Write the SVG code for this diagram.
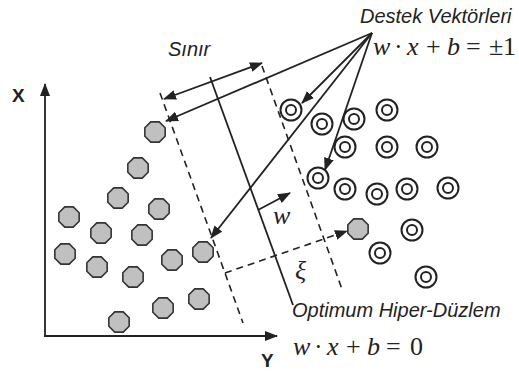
<svg xmlns="http://www.w3.org/2000/svg" xmlns:xlink="http://www.w3.org/1999/xlink" width="519" height="371" viewBox="0 0 519 371">
<style>
.ln{stroke:#222;stroke-width:1.8;fill:none}
.ds{stroke:#222;stroke-width:1.6;fill:none;stroke-dasharray:7 5}
.oct{fill:#c0c0c0;stroke:#333;stroke-width:1.6}
.dc{fill:#fff;stroke:#222;stroke-width:2}
.lab{font-family:"Liberation Sans",Arial,sans-serif;font-style:italic;fill:#222;font-size:20px}
.ax{font-family:"Liberation Sans",Arial,sans-serif;font-weight:bold;fill:#222;font-size:19px}
.m{font-family:"Liberation Serif","Times New Roman",serif;fill:#222;font-size:26px}
.i{font-style:italic}
</style>
<defs>
<marker id="ah" markerUnits="userSpaceOnUse" markerWidth="13" markerHeight="10" refX="12" refY="5" orient="auto-start-reverse">
<path d="M0,0 L13,5 L0,10 z" fill="#222"/>
</marker>
<polygon id="oc" class="oct" points="10.16,4.21 4.21,10.16 -4.21,10.16 -10.16,4.21 -10.16,-4.21 -4.21,-10.16 4.21,-10.16 10.16,-4.21"/>
<g id="dcc"><circle class="dc" r="10.5"/><circle class="dc" r="5"/></g>
</defs>
<rect width="519" height="371" fill="#fff"/>
<g id="axes">
<line class="ln" x1="45" y1="336" x2="45" y2="84" marker-end="url(#ah)"/>
<line class="ln" x1="44" y1="336" x2="277" y2="336" marker-end="url(#ah)"/>
<text class="ax" x="12" y="102">X</text>
<text class="ax" x="261" y="367">Y</text>
</g>
<g id="connectors">
<line class="ds" x1="160" y1="93" x2="243" y2="323"/>
<line class="ds" x1="262" y1="66" x2="343" y2="292"/>
<line class="ln" x1="210" y1="77" x2="293" y2="305"/>
<line class="ln" x1="164" y1="99" x2="262" y2="63" marker-start="url(#ah)" marker-end="url(#ah)"/>
<line class="ln" x1="372" y1="33" x2="166" y2="121" marker-end="url(#ah)"/>
<line class="ln" x1="372" y1="33" x2="302" y2="103" marker-end="url(#ah)"/>
<line class="ln" x1="372" y1="33" x2="211" y2="238" marker-end="url(#ah)"/>
<line class="ln" x1="372" y1="33" x2="325" y2="170" marker-end="url(#ah)"/>
<line class="ln" x1="258" y1="210" x2="290" y2="193" marker-end="url(#ah)"/>
<line class="ds" x1="225" y1="273" x2="347" y2="231" marker-end="url(#ah)"/>
</g>
<g id="classA">
<g id="a1"><use xlink:href="#oc" x="155" y="132"/></g>
<g id="a2"><use xlink:href="#oc" x="138" y="168"/></g>
<g id="a3"><use xlink:href="#oc" x="118" y="198"/></g>
<g id="a4"><use xlink:href="#oc" x="159" y="209"/></g>
<g id="a5"><use xlink:href="#oc" x="69" y="217"/></g>
<g id="a6"><use xlink:href="#oc" x="101" y="233"/></g>
<g id="a7"><use xlink:href="#oc" x="142" y="235"/></g>
<g id="a8"><use xlink:href="#oc" x="65" y="254"/></g>
<g id="a9"><use xlink:href="#oc" x="97" y="267"/></g>
<g id="a10"><use xlink:href="#oc" x="172" y="260"/></g>
<g id="a11"><use xlink:href="#oc" x="203" y="252"/></g>
<g id="a12"><use xlink:href="#oc" x="133" y="277"/></g>
<g id="a13"><use xlink:href="#oc" x="199" y="299"/></g>
<g id="a14"><use xlink:href="#oc" x="163" y="308"/></g>
<g id="a15"><use xlink:href="#oc" x="119" y="322"/></g>
<g id="a16"><use xlink:href="#oc" x="358" y="229"/></g>
</g>
<g id="classB">
<g id="b1"><use xlink:href="#dcc" x="291" y="110"/></g>
<g id="b2"><use xlink:href="#dcc" x="322" y="124"/></g>
<g id="b3"><use xlink:href="#dcc" x="354" y="119"/></g>
<g id="b4"><use xlink:href="#dcc" x="387" y="110"/></g>
<g id="b5"><use xlink:href="#dcc" x="345" y="147"/></g>
<g id="b6"><use xlink:href="#dcc" x="387" y="147"/></g>
<g id="b7"><use xlink:href="#dcc" x="427" y="147"/></g>
<g id="b8"><use xlink:href="#dcc" x="318" y="178"/></g>
<g id="b9"><use xlink:href="#dcc" x="345" y="189"/></g>
<g id="b10"><use xlink:href="#dcc" x="377" y="194"/></g>
<g id="b11"><use xlink:href="#dcc" x="407" y="189"/></g>
<g id="b12"><use xlink:href="#dcc" x="448" y="188"/></g>
<g id="b13"><use xlink:href="#dcc" x="412" y="230"/></g>
<g id="b14"><use xlink:href="#dcc" x="380" y="253"/></g>
<g id="b15"><use xlink:href="#dcc" x="426" y="277"/></g>
</g>
<g id="labels">
<text class="lab" x="168" y="56" font-size="21">Sınır</text>
<text class="lab" x="360" y="23">Destek Vektörleri</text>
<text class="m" y="55"><tspan class="i" x="373">w</tspan><tspan x="394">·</tspan><tspan class="i" x="407">x</tspan><tspan x="426">+</tspan><tspan class="i" x="447">b</tspan><tspan x="466">=</tspan><tspan x="489">±</tspan><tspan x="503">1</tspan></text>
<text class="lab" x="292" y="317">Optimum Hiper-Düzlem</text>
<text class="m" y="355"><tspan class="i" x="293">w</tspan><tspan x="314">·</tspan><tspan class="i" x="327">x</tspan><tspan x="346">+</tspan><tspan class="i" x="367">b</tspan><tspan x="386">=</tspan><tspan x="410">0</tspan></text>
<text class="m i" x="273" y="224" font-size="22">w</text>
<text class="m i" x="295" y="279" font-size="22">ξ</text>
</g>
</svg>
